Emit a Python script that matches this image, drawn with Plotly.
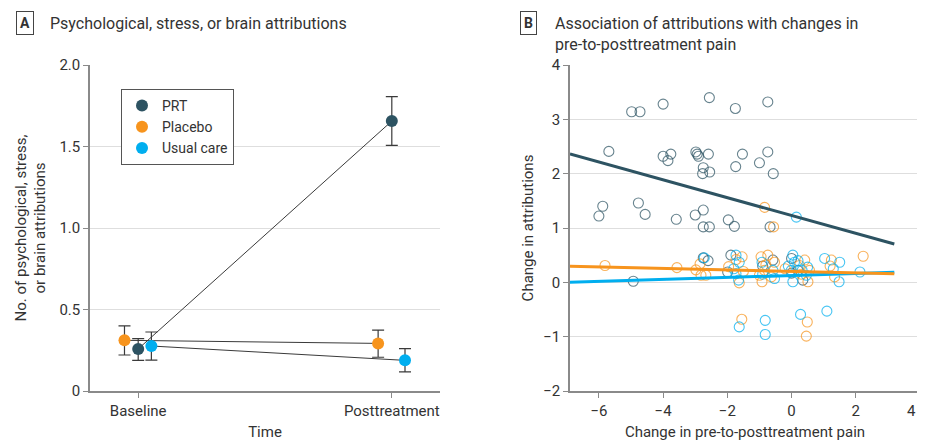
import plotly.graph_objects as go

# ---------------- Panel A data ----------------
time_labels = ["Baseline", "Posttreatment"]
groups = ["PRT", "Placebo", "Usual care"]
group_colors = ["#2d5362", "#f7941d", "#00aeef"]
group_offsets = [0.0, -0.054, 0.052]
mean_vals = {
    "PRT": [0.258, 1.656],
    "Placebo": [0.311, 0.292],
    "Usual care": [0.276, 0.188],
}
err_upper = {
    "PRT": [0.063, 0.150],
    "Placebo": [0.088, 0.082],
    "Usual care": [0.086, 0.072],
}
err_lower = {
    "PRT": [0.070, 0.149],
    "Placebo": [0.090, 0.085],
    "Usual care": [0.086, 0.071],
}

# ---------------- Panel B data ----------------
pain_ticks = [-6, -4, -2, 0, 2, 4]
prt_x = [-4.98, -4.72, -4.0, -2.56, -1.75, -0.74,
         -5.69, -4.0, -3.76, -3.85, -2.98, -2.90, -2.94, -2.59, -2.75, -2.77, -2.55,
         -1.53, -1.74, -1.0, -0.74, -0.57,
         -5.88, -6.0, -4.77, -4.56, -3.59, -3.0, -2.75, -2.75, -2.56, -1.97, -1.78, -0.67,
         -4.93, -2.75, -1.89, -1.99, -0.58, 0.0, 0.2, 0.0, 0.35, -0.9, -2.6]
prt_y = [3.14, 3.14, 3.28, 3.40, 3.20, 3.32,
         2.41, 2.32, 2.36, 2.24, 2.40, 2.32, 2.36, 2.36, 2.11, 2.00, 2.03,
         2.36, 2.13, 2.20, 2.40, 2.00,
         1.40, 1.22, 1.46, 1.25, 1.16, 1.24, 1.33, 1.02, 1.02, 1.15, 1.03, 1.02,
         0.02, 0.45, 0.50, 0.19, 0.41, 0.44, 0.22, 0.17, 0.04, 0.30, 0.40]

placebo_x = [-5.81, -3.57, -2.98, -2.82, -2.67, -2.85, -1.96, -1.54, -1.73, -1.63,
             -0.95, -0.74, -0.53, -0.92, -0.84, -0.63, -1.0, 0.41, 0.25, 0.51,
             0.56, 1.24, 1.34, 2.23, -1.55, 0.49, 0.46, -0.56, -0.84, -1.5,
             -0.8, 0.3, -0.2, 1.2]
placebo_y = [0.31, 0.27, 0.23, 0.13, 0.13, 0.34, 0.29, 0.47, 0.42, -0.01,
             0.47, 0.50, 0.37, 0.01, 0.22, 0.10, 0.13, 0.41, 0.31, 0.01,
             0.22, 0.41, 0.10, 0.48, -0.68, -0.73, -0.99, 1.02, 1.38, 0.20,
             0.32, 0.15, 0.25, 0.30]

usual_x = [-2.72, -1.73, -1.63, -1.73, -1.65, -0.92, -0.58, -0.53, 0.04, 0.09,
           -0.01, 0.04, 0.33, 0.46, 1.03, 1.5, 1.48, 2.13, -1.63, -0.82,
           -0.82, 0.28, 1.10, 0.15, -0.9, -0.1, 0.2, 1.3, -1.8, 0.5]
usual_y = [0.45, 0.50, 0.37, 0.16, 0.04, 0.37, 0.22, 0.07, 0.50, 0.37,
           0.22, 0.01, 0.22, 0.13, 0.44, 0.37, 0.01, 0.19, -0.82, -0.70,
           -0.96, -0.59, -0.53, 1.20, 0.15, 0.30, 0.40, 0.25, 0.25, 0.28]

# fitted regression lines: (intercept, slope)
fit_coefs = {"PRT": (1.23, -0.164), "Placebo": (0.203, -0.0134), "Usual care": (0.126, 0.0183)}
fit_x_range = [-6.9, 3.2]

scatter_colors = {"PRT": "rgba(45,83,98,0.72)", "Placebo": "rgba(247,148,29,0.72)",
                  "Usual care": "rgba(0,174,239,0.72)"}

FONT = "Roboto"
TXT = "#333333"
AXC = "#8a8a8a"
OFF = 8  # page body offset
W, H = 925 - OFF, 442 - OFF


def px(rx):
    return (rx - OFF) / W


def py(ry):
    return 1 - (ry - OFF) / H


fig = go.Figure()

# Panel A connecting lines
for g, off in zip(groups, group_offsets):
    fig.add_trace(go.Scatter(
        x=[0 + off, 1 + off], y=mean_vals[g], mode="lines",
        line=dict(color="#3a3a3a", width=1), showlegend=False, hoverinfo="skip",
        xaxis="x", yaxis="y"))

# Panel A markers with error bars
for g, c, off in zip(groups, group_colors, group_offsets):
    fig.add_trace(go.Scatter(
        x=[0 + off, 1 + off], y=mean_vals[g], mode="markers", name=g,
        marker=dict(color=c, size=12),
        error_y=dict(type="data", symmetric=False, array=err_upper[g],
                     arrayminus=err_lower[g], color="#3a3a3a", thickness=1.2, width=6),
        xaxis="x", yaxis="y"))

# Panel B scatter
for g, xs, ys in [("PRT", prt_x, prt_y), ("Placebo", placebo_x, placebo_y),
                  ("Usual care", usual_x, usual_y)]:
    fig.add_trace(go.Scatter(
        x=xs, y=ys, mode="markers", showlegend=False,
        marker=dict(symbol="circle-open", size=10, color=scatter_colors[g],
                    line=dict(width=1.1)),
        xaxis="x2", yaxis="y2"))

# Panel B regression lines
for g, c in zip(["Usual care", "Placebo", "PRT"], [group_colors[2], group_colors[1], group_colors[0]]):
    b0, b1 = fit_coefs[g]
    fig.add_trace(go.Scatter(
        x=fit_x_range, y=[b0 + b1 * fit_x_range[0], b0 + b1 * fit_x_range[1]],
        mode="lines", line=dict(color=c, width=3), showlegend=False,
        xaxis="x2", yaxis="y2"))

y_dom = [py(391), py(65)]
axis_common = dict(showline=True, linecolor=AXC, linewidth=1.5, ticks="outside",
                   ticklen=5, tickcolor=AXC, tickfont=dict(size=15, color=TXT),
                   zeroline=False, automargin=False)

# last tick label sits on the edge of the page: draw it as annotation text
pain_ticktext = [("\u2212" + str(-t)) if t < 0 else str(t) for t in pain_ticks]
edge_label = pain_ticktext[-1]
pain_ticktext_axis = pain_ticktext[:-1] + [""]

fig.update_layout(
    width=W, height=H,
    margin=dict(l=0, r=0, t=0, b=0, autoexpand=False),
    paper_bgcolor="white", plot_bgcolor="white",
    font=dict(family=FONT, color=TXT, size=14),
    xaxis=dict(domain=[px(90), px(440)], range=[-0.19, 1.19],
               tickvals=[0, 1], ticktext=time_labels, showgrid=False,
               title=dict(text="Time", font=dict(size=15), standoff=8),
               **axis_common),
    yaxis=dict(domain=y_dom, range=[0, 2.0], tickvals=[0, 0.5, 1.0, 1.5, 2.0],
               ticktext=["0", "0.5", "1.0", "1.5", "2.0"],
               showgrid=True, gridcolor="#dedede", gridwidth=1.2,
               title=dict(text="No. of psychological, stress,<br>or brain attributions",
                          font=dict(size=15), standoff=10),
               **axis_common),
    xaxis2=dict(domain=[px(570), px(920)], range=[-6.9, 4.0], anchor="y2",
                tickvals=pain_ticks, ticktext=pain_ticktext_axis, showgrid=False,
                title=dict(text="Change in pre-to-posttreatment pain", font=dict(size=15),
                           standoff=8),
                **axis_common),
    yaxis2=dict(domain=y_dom, range=[-2, 4], anchor="x2",
                tickvals=[-2, -1, 0, 1, 2, 3, 4],
                showgrid=True, gridcolor="#dedede", gridwidth=1.2,
                title=dict(text="Change in attributions", font=dict(size=15), standoff=6),
                **axis_common),
    legend=dict(x=px(121), y=py(89), xanchor="left", yanchor="top",
                bordercolor="#555555", borderwidth=1, bgcolor="white",
                font=dict(size=14, color=TXT), itemsizing="constant",
                tracegroupgap=0),
    showlegend=True,
)

fig.add_annotation(x=pain_ticks[-1], xref="x2", y=py(411), yref="paper",
                   text=edge_label, showarrow=False, xanchor="right", yanchor="middle",
                   xshift=-2, font=dict(size=15, color=TXT))

# panel labels and titles
fig.add_annotation(x=px(16), y=py(23), xref="paper", yref="paper",
                   text="<b>A</b>", showarrow=False, xanchor="left", yanchor="middle",
                   bordercolor="#444444", borderwidth=1, borderpad=3,
                   font=dict(size=14, color=TXT))
fig.add_annotation(x=px(48), y=py(23), xref="paper", yref="paper",
                   text="Psychological, stress, or brain attributions", showarrow=False,
                   xanchor="left", yanchor="middle", font=dict(size=16, color=TXT))
fig.add_annotation(x=px(520), y=py(23), xref="paper", yref="paper",
                   text="<b>B</b>", showarrow=False, xanchor="left", yanchor="middle",
                   bordercolor="#444444", borderwidth=1, borderpad=3,
                   font=dict(size=14, color=TXT))
fig.add_annotation(x=px(553), y=py(12), xref="paper", yref="paper",
                   text="Association of attributions with changes in<br>pre-to-posttreatment pain",
                   showarrow=False, xanchor="left", yanchor="top", align="left",
                   font=dict(size=16, color=TXT))

fig.write_html("out.html")
